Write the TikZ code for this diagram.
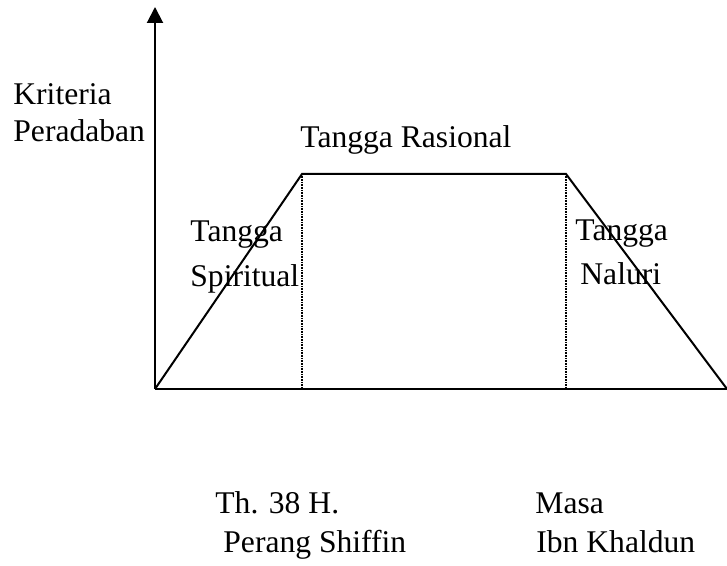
\documentclass[tikz,border=0pt]{standalone}
\usepackage{fontspec}
\setmainfont{Liberation Serif}
\usetikzlibrary{arrows.meta}
\tikzset{
  lbl/.style  = {anchor=base west, inner sep=0pt, font=\fontsize{15.8}{18}\selectfont},
  axis/.style = {line width=1pt, draw=black},
  edge/.style = {line width=1pt, draw=black},
  guide/.style= {line width=0.6pt, dash pattern=on 0.4pt off 0.4pt},
}
\begin{document}
\begin{tikzpicture}[x=0.5pt,y=-0.5pt]
  \useasboundingbox (0,0) rectangle (727,566);
  % axes
  \coordinate (o) at (155,389);
  \coordinate (top) at (155,7);
  \coordinate (xend) at (727,389);
  \draw[axis,-{Triangle[length=8pt,width=8pt]}] (o) -- (top);
  \draw[line width=0.6pt] (o) -- (xend);
  % trapezium
  \coordinate (a) at (302,174);
  \coordinate (b) at (566,174);
  \coordinate (a0) at (302,389);
  \coordinate (b0) at (566,389);
  \draw[edge] (o) -- (a) -- (b) -- (xend);
  \draw[guide] (a) -- (a0);
  \draw[guide] (b) -- (b0);
  % labels
  \node[lbl] (kriteria) at (13,105) {Kriteria};
  \node[lbl] (peradaban) at (13,142) {Peradaban};
  \node[lbl] (rasional) at (300,148) {Tangga Rasional};
  \node[lbl] (tangga1) at (190,242) {Tangga};
  \node[lbl] (spiritual) at (190,287) {Spiritual};
  \node[lbl] (tangga2) at (575,241) {Tangga};
  \node[lbl] (naluri) at (580,285) {Naluri};
  \node[lbl] (tahun) at (215,513) {Th. 38 H.};
  \node[lbl] (shiffin) at (223,552) {Perang Shiffin};
  \node[lbl] (masa) at (535,513) {Masa};
  \node[lbl] (khaldun) at (536,552) {Ibn Khaldun};
\end{tikzpicture}
\end{document}
